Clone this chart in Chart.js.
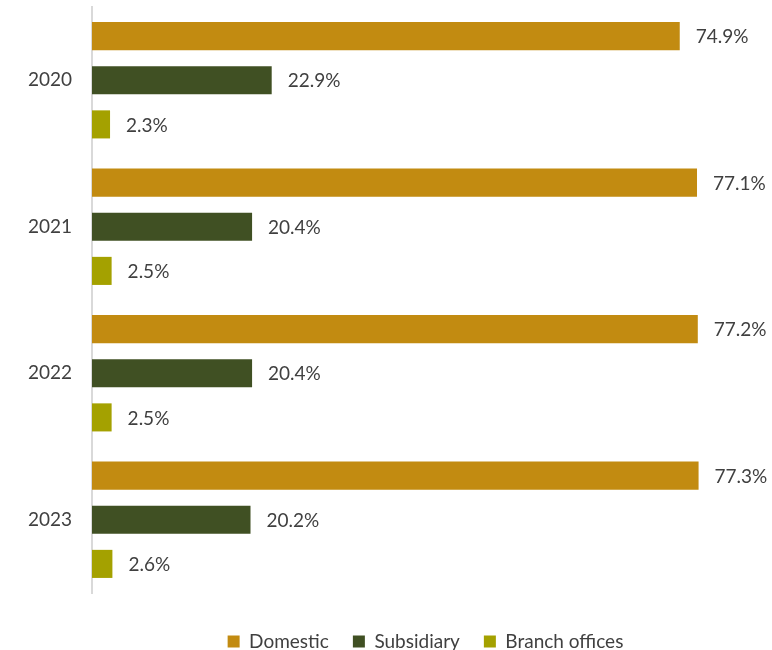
<!DOCTYPE html>
<html>
<head>
<meta charset="utf-8">
<script src="https://cdn.jsdelivr.net/npm/chart.js@4.4.0/dist/chart.umd.min.js"></script>
<style>
    html, body { margin: 0; padding: 0; background: #ffffff; }
    #wrap { width: 772px; height: 650px; position: relative; }
</style>
</head>
<body>
<div id="wrap"><canvas id="shareChart"></canvas></div>
<script>
// Share of employment by type of company, per year (%)
var years = ['2020', '2021', '2022', '2023'];
var domestic = [74.9, 77.1, 77.2, 77.3];
var subsidiary = [22.9, 20.4, 20.4, 20.2];
var branchOffices = [2.3, 2.5, 2.5, 2.6];

var textColor = '#404040';
var fontFamily = 'Lato, "Noto Sans", sans-serif';

// Write the value next to the end of every bar
var valueLabels = {
    id: 'valueLabels',
    afterDatasetsDraw: function (chart) {
        var c = chart.ctx;
        c.save();
        c.font = '19px ' + fontFamily;
        c.fillStyle = textColor;
        c.textAlign = 'left';
        c.textBaseline = 'middle';
        chart.data.datasets.forEach(function (ds, i) {
            chart.getDatasetMeta(i).data.forEach(function (bar, j) {
                c.fillText(ds.data[j].toFixed(1) + '%', bar.x + 16, bar.y + 1);
            });
        });
        c.restore();
    }
};

document.addEventListener('DOMContentLoaded', function () {
    var ctx = document.getElementById('shareChart').getContext('2d');

    new Chart(ctx, {
        type: 'bar',
        data: {
            labels: years,
            datasets: [{
                label: 'Domestic',
                data: domestic,
                backgroundColor: 'rgb(194, 139, 17)'
            }, {
                label: 'Subsidiary',
                data: subsidiary,
                backgroundColor: 'rgb(64, 80, 35)'
            }, {
                label: 'Branch offices',
                data: branchOffices,
                backgroundColor: 'rgb(164, 161, 0)'
            }]
        },
        options: {
            indexAxis: 'y',
            responsive: true,
            maintainAspectRatio: false,
            animation: false,
            categoryPercentage: 0.904,
            barPercentage: 0.636,
            layout: {
                padding: { top: 7, right: 13, left: 0, bottom: -11 }
            },
            scales: {
                x: {
                    display: false,
                    min: 0,
                    max: 85
                },
                y: {
                    // invisible tick marks keep the year labels away from the axis line
                    grid: {
                        display: true,
                        drawOnChartArea: false,
                        drawTicks: true,
                        tickLength: 20,
                        color: 'rgba(0,0,0,0)'
                    },
                    border: { display: true, color: '#d9d9d9', width: 2 },
                    ticks: {
                        color: textColor,
                        padding: 0,
                        font: { family: fontFamily, size: 19, lineHeight: 0.7 }
                    },
                    afterFit: function (scale) { scale.width = 92; }
                }
            },
            plugins: {
                tooltip: { enabled: false },
                legend: {
                    position: 'bottom',
                    fullSize: false,
                    // empty title only adds space above the legend row
                    title: {
                        display: true,
                        text: '',
                        font: { size: 10, lineHeight: 1 },
                        padding: { top: 0, bottom: 5 }
                    },
                    labels: {
                        color: textColor,
                        boxWidth: 12,
                        boxHeight: 12,
                        padding: 24,
                        font: { family: fontFamily, size: 19 }
                    }
                }
            }
        },
        plugins: [valueLabels]
    });
});
</script>
</body>
</html>
